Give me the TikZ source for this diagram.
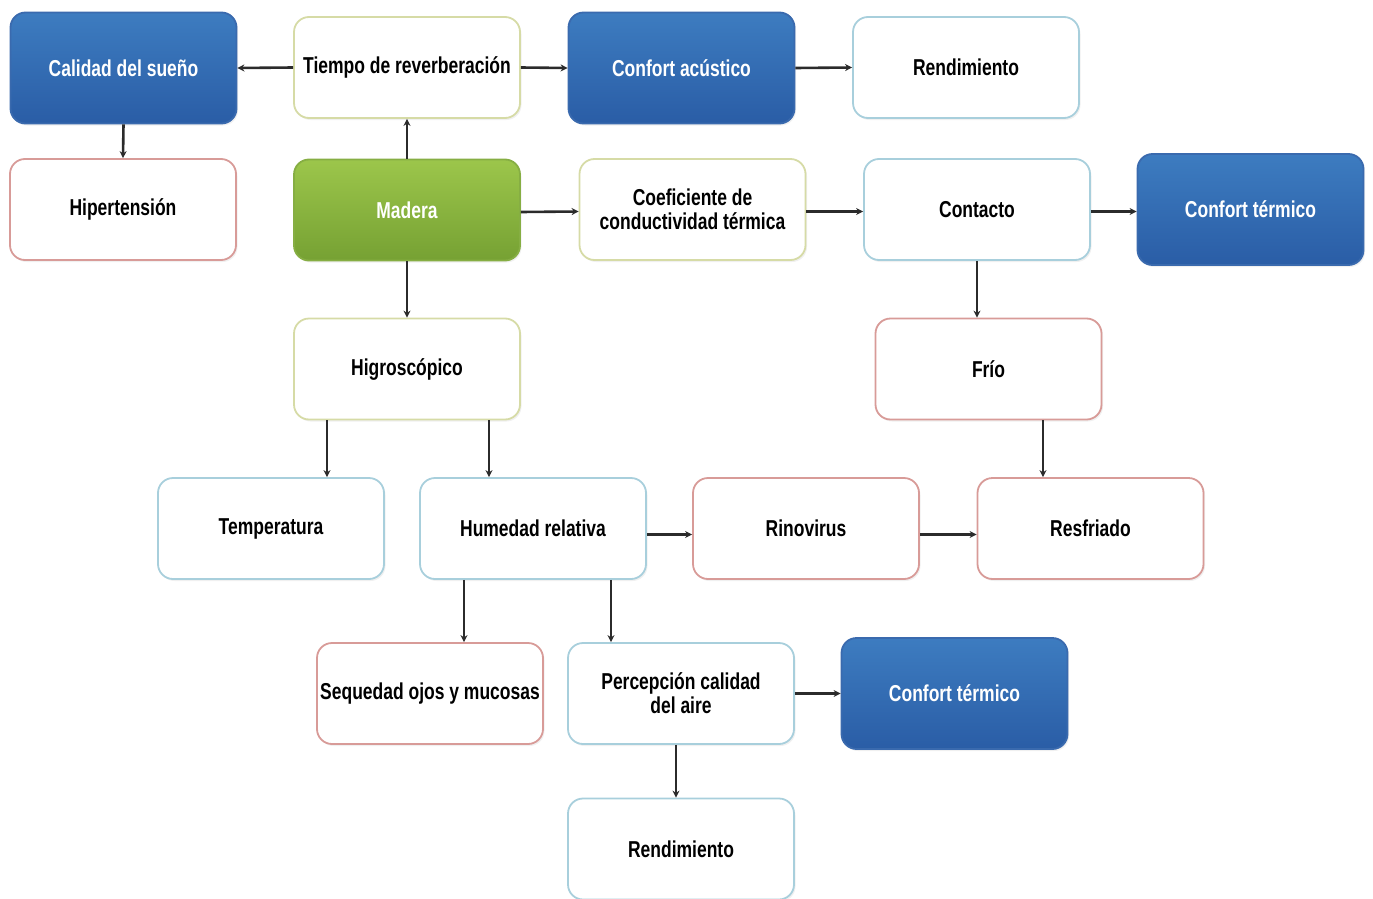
\documentclass[tikz,border=0pt]{standalone}
\usepackage{fontspec}
\setmainfont{Liberation Sans}[FakeStretch=0.76]
\usetikzlibrary{arrows.meta,shadows}
\definecolor{bluetop}{HTML}{3D7CC0}
\definecolor{bluebot}{HTML}{2A5DA6}
\definecolor{blueline}{HTML}{3A6AAE}
\definecolor{greentop}{HTML}{9CC64B}
\definecolor{greenbot}{HTML}{76A133}
\definecolor{greenline}{HTML}{86AE43}
\definecolor{oliveline}{HTML}{D6DBA6}
\definecolor{lblueline}{HTML}{A8CFDC}
\definecolor{redline}{HTML}{D89B98}
\definecolor{arrowc}{HTML}{2B2B2B}
\tikzset{
  base/.style={rounded corners=15pt, minimum width=226pt, minimum height=101pt,
    align=center, font=\fontsize{23}{24}\selectfont\bfseries, line width=1.8pt,
    inner sep=2pt, drop shadow={opacity=0.12, shadow xshift=1.5pt, shadow yshift=-2pt}},
  bluebox/.style={base, draw=blueline, top color=bluetop, bottom color=bluebot,
    text=white, minimum height=111pt},
  greenbox/.style={base, draw=greenline, top color=greentop, bottom color=greenbot, text=white},
  olivebox/.style={base, draw=oliveline, fill=white},
  lbluebox/.style={base, draw=lblueline, fill=white},
  redbox/.style={base, draw=redline, fill=white},
  conn/.style={draw=arrowc, line width=2.6pt, -{Stealth[length=7pt,width=7pt]}}
}
\begin{document}
\begin{tikzpicture}[x=1pt,y=-1pt]
\useasboundingbox (0,0) rectangle (1373,899);
\begin{scope}
\clip (0,0) rectangle (1373,899);
% row 1
\node[bluebox] (cal) at (123.5,68) {Calidad del sueño};
\node[olivebox] (tie) at (407,67.5) {Tiempo de reverberación};
\node[bluebox] (aco) at (681.5,68) {Confort acústico};
\node[lbluebox] (ren1) at (966,67.5) {Rendimiento};
% row 2
\node[redbox] (hip) at (123,209.5) {Hipertensión};
\node[greenbox] (mad) at (407,210) {Madera};
\node[olivebox] (coe) at (692.5,209.5) {Coeficiente de\\conductividad térmica};
\node[lbluebox] (con) at (977,209.5) {Contacto};
\node[bluebox] (ter1) at (1250.5,209.5) {Confort térmico};
% row 3
\node[olivebox] (hig) at (407,369) {Higroscópico};
\node[redbox] (fri) at (988.5,369) {Frío};
% row 4
\node[lbluebox] (tem) at (271,528.5) {Temperatura};
\node[lbluebox] (hum) at (533,528.5) {Humedad relativa};
\node[redbox] (rin) at (806,528.5) {Rinovirus};
\node[redbox] (res) at (1090.5,528.5) {Resfriado};
% row 5
\node[redbox] (seq) at (430,693.5) {Sequedad ojos y mucosas};
\node[lbluebox] (per) at (681,693.5) {Percepción calidad\\del aire};
\node[bluebox] (ter2) at (954.5,693.5) {Confort térmico};
% row 6
\node[lbluebox] (ren2) at (681,849) {Rendimiento};
\end{scope}
% connectors
\draw[conn] (tie.west) -- (cal.east);
\draw[conn] (cal.south) -- (hip.north);
\draw[conn] (mad.north) -- (tie.south);
\draw[conn] (tie.east) -- (aco.west);
\draw[conn] (aco.east) -- (ren1.west);
\draw[conn] ([yshift=-2pt]mad.east) -- ([yshift=-2pt]coe.west);
\draw[conn] ([yshift=-2pt]coe.east) -- ([yshift=-2pt]con.west);
\draw[conn] ([yshift=-2pt]con.east) -- ([yshift=-2pt]con.east -| ter1.west);
\draw[conn] (mad.south) -- (hig.north);
\draw[conn] (con.south) -- (con.south |- fri.north);
\draw[conn] ([xshift=-80pt]hig.south) -- ([xshift=-80pt]hig.south |- tem.north);
\draw[conn] ([xshift=82pt]hig.south) -- ([xshift=82pt]hig.south |- hum.north);
\draw[conn] ([xshift=54.5pt]fri.south) -- ([xshift=54.5pt]fri.south |- res.north);
\draw[conn] ([yshift=-6pt]hum.east) -- ([yshift=-6pt]rin.west);
\draw[conn] ([yshift=-6pt]rin.east) -- ([yshift=-6pt]res.west);
\draw[conn] ([xshift=-69pt]hum.south) -- ([xshift=-69pt]hum.south |- seq.north);
\draw[conn] ([xshift=78pt]hum.south) -- ([xshift=78pt]hum.south |- per.north);
\draw[conn] (per.east) -- (ter2.west);
\draw[conn] ([xshift=-5pt]per.south) -- ([xshift=-5pt]per.south |- ren2.north);
\end{tikzpicture}
\end{document}
